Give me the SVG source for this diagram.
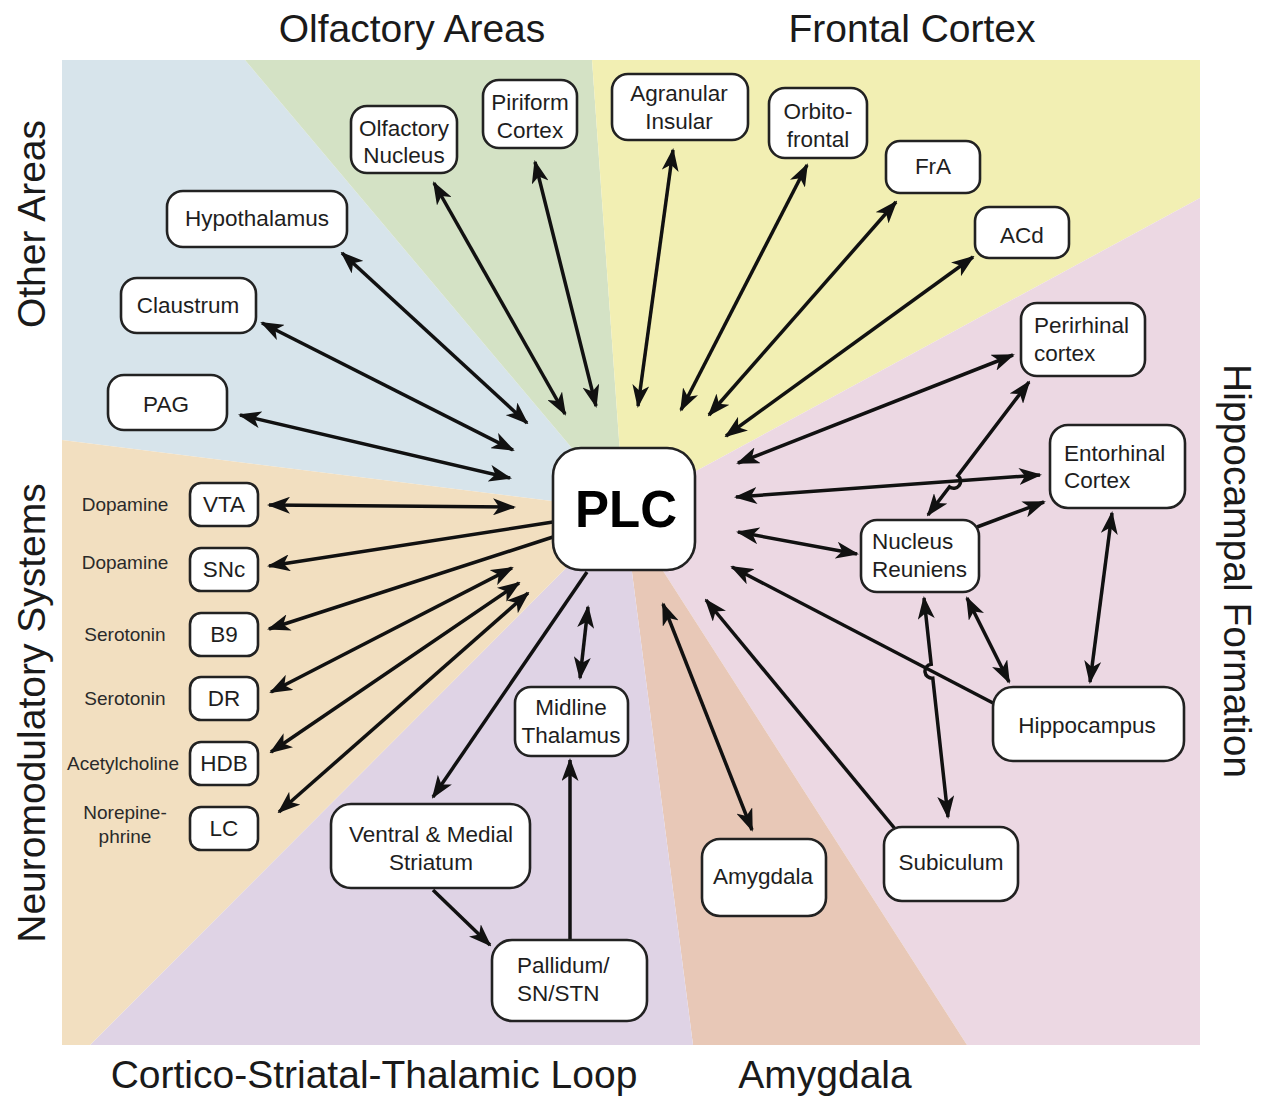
<svg xmlns="http://www.w3.org/2000/svg" width="1262" height="1098" viewBox="0 0 1262 1098">
<defs>
<style>
.bg{fill:#ffffff}
.box{fill:#ffffff;stroke:#222;stroke-width:2.6}
.t{font-family:"Liberation Sans",Arial,sans-serif;font-size:22.5px;fill:#1e1e1e;text-anchor:middle}
.tl{font-family:"Liberation Sans",Arial,sans-serif;font-size:22.5px;fill:#1e1e1e;text-anchor:start}
.s{font-family:"Liberation Sans",Arial,sans-serif;font-size:19px;fill:#2a2a2a;text-anchor:middle}
.ttl{font-family:"Liberation Sans",Arial,sans-serif;font-size:39px;fill:#1a1a1a;text-anchor:middle}
.plc{font-family:"Liberation Sans",Arial,sans-serif;font-size:51px;font-weight:bold;fill:#000;text-anchor:middle}
.c{fill:none;stroke:#111;stroke-width:3.5}
.d{marker-start:url(#ah);marker-end:url(#ah)}
.e{marker-end:url(#ah)}
</style>
<marker id="ah" viewBox="0 0 23 17" refX="21" refY="8.5" markerWidth="23" markerHeight="17" markerUnits="userSpaceOnUse" orient="auto-start-reverse">
<path d="M0,0 L23,8.5 L0,17 L6,8.5 z" fill="#111"/>
</marker>
</defs>
<rect class="bg" x="0" y="0" width="1262" height="1098"/>
<g id="sectors">
<polygon points="62,60 245,60 624,510 62,440" fill="#d7e4eb"/>
<polygon points="245,60 592,60 624,510" fill="#d4e2c5"/>
<polygon points="592,60 1200,60 1200,198 624,510" fill="#f2efb3"/>
<polygon points="1200,198 1200,1045 967,1045 624,510" fill="#ecd8e3"/>
<polygon points="967,1045 693,1045 624,510" fill="#e8c8b7"/>
<polygon points="693,1045 90,1045 624,510" fill="#dfd3e5"/>
<polygon points="90,1045 62,1045 62,440 624,510" fill="#f2dfc0"/>
</g>
<g id="titles">
<text class="ttl" x="412" y="42">Olfactory Areas</text>
<text class="ttl" x="912" y="42">Frontal Cortex</text>
<text class="ttl" x="374" y="1088">Cortico-Striatal-Thalamic Loop</text>
<text class="ttl" x="825" y="1088">Amygdala</text>
<text class="ttl" transform="translate(45,224) rotate(-90)">Other Areas</text>
<text class="ttl" transform="translate(45,713) rotate(-90)">Neuromodulatory Systems</text>
<text class="ttl" transform="translate(1224,571) rotate(90)">Hippocampal Formation</text>
</g>
<g id="connectors">
<line class="c d" x1="434" y1="183" x2="565" y2="414"/>
<line class="c d" x1="535" y1="162" x2="596" y2="406"/>
<line class="c d" x1="673" y1="150" x2="638" y2="406"/>
<line class="c d" x1="807" y1="165" x2="681" y2="410"/>
<line class="c d" x1="896" y1="202" x2="709" y2="415"/>
<line class="c d" x1="973" y1="257" x2="726" y2="436"/>
<line class="c d" x1="1013" y1="355" x2="738" y2="463"/>
<line class="c d" x1="1040" y1="475" x2="736" y2="497"/>
<line class="c d" x1="857" y1="554" x2="738" y2="532"/>
<line class="c e" x1="993" y1="703" x2="732" y2="567"/>
<line class="c e" x1="896" y1="830" x2="706" y2="600"/>
<line class="c d" x1="663" y1="604" x2="752" y2="830"/>
<line class="c d" x1="588" y1="607" x2="580" y2="678"/>
<line class="c e" x1="587" y1="572" x2="433" y2="797"/>
<line class="c e" x1="433" y1="890" x2="490" y2="945"/>
<line class="c e" x1="570" y1="940" x2="570" y2="760"/>
<line class="c d" x1="269" y1="505" x2="514" y2="507"/>
<line class="c e" x1="553" y1="522" x2="269" y2="566"/>
<line class="c e" x1="553" y1="537" x2="269" y2="629"/>
<line class="c d" x1="271" y1="692" x2="512" y2="568"/>
<line class="c d" x1="271" y1="752" x2="519" y2="583"/>
<line class="c d" x1="279" y1="812" x2="528" y2="593"/>
<line class="c d" x1="240" y1="415" x2="510" y2="478"/>
<line class="c d" x1="262" y1="323" x2="513" y2="450"/>
<line class="c d" x1="342" y1="253" x2="527" y2="423"/>
<line class="c d" x1="967" y1="598" x2="1009" y2="682"/>
<line class="c d" x1="1112" y1="513" x2="1090" y2="682"/>
<line class="c e" x1="977" y1="527" x2="1044" y2="502"/>
<path class="c d" d="M1029,382 L957.8,475.7 A7,7 0 0 1 949.4,486.9 L928,515"/>
<path class="c d" d="M924,598 L931.2,664.2 A7,7 0 0 0 932.8,678.2 L948,817"/>
</g>
<g id="PLC"><rect class="box" x="553" y="448" width="142" height="122" rx="28"/><text class="plc" x="626" y="527">PLC</text></g>
<g id="olfactory-nucleus"><rect class="box" x="351" y="106" width="106" height="67" rx="16"/><text class="t" x="404" y="136">Olfactory</text><text class="t" x="404" y="163">Nucleus</text></g>
<g id="piriform-cortex"><rect class="box" x="483" y="80" width="94" height="68" rx="16"/><text class="t" x="530" y="110">Piriform</text><text class="t" x="530" y="138">Cortex</text></g>
<g id="agranular-insular"><rect class="box" x="612" y="74" width="136" height="66" rx="16"/><text class="t" x="679" y="101">Agranular</text><text class="t" x="679" y="129">Insular</text></g>
<g id="orbitofrontal"><rect class="box" x="769" y="88" width="98" height="70" rx="16"/><text class="t" x="818" y="119">Orbito-</text><text class="t" x="818" y="147">frontal</text></g>
<g id="FrA"><rect class="box" x="886" y="141" width="94" height="52" rx="14"/><text class="t" x="933" y="174">FrA</text></g>
<g id="ACd"><rect class="box" x="975" y="207" width="94" height="51" rx="14"/><text class="t" x="1022" y="243">ACd</text></g>
<g id="hypothalamus"><rect class="box" x="167" y="191" width="180" height="56" rx="16"/><text class="t" x="257" y="226">Hypothalamus</text></g>
<g id="claustrum"><rect class="box" x="121" y="278" width="135" height="55" rx="16"/><text class="t" x="188" y="313">Claustrum</text></g>
<g id="PAG"><rect class="box" x="108" y="375" width="119" height="55" rx="16"/><text class="t" x="166" y="412">PAG</text></g>
<g id="perirhinal-cortex"><rect class="box" x="1021" y="303" width="124" height="73" rx="16"/><text class="tl" x="1034" y="333">Perirhinal</text><text class="tl" x="1034" y="361">cortex</text></g>
<g id="entorhinal-cortex"><rect class="box" x="1050" y="425" width="135" height="83" rx="18"/><text class="tl" x="1064" y="461">Entorhinal</text><text class="tl" x="1064" y="488">Cortex</text></g>
<g id="nucleus-reuniens"><rect class="box" x="861" y="520" width="118" height="72" rx="16"/><text class="tl" x="872" y="549">Nucleus</text><text class="tl" x="872" y="577">Reuniens</text></g>
<g id="hippocampus"><rect class="box" x="993" y="687" width="191" height="74" rx="20"/><text class="t" x="1087" y="733">Hippocampus</text></g>
<g id="subiculum"><rect class="box" x="884" y="827" width="134" height="74" rx="18"/><text class="t" x="951" y="870">Subiculum</text></g>
<g id="amygdala"><rect class="box" x="702" y="839" width="124" height="77" rx="18"/><text class="t" x="763" y="884">Amygdala</text></g>
<g id="midline-thalamus"><rect class="box" x="515" y="687" width="113" height="69" rx="16"/><text class="t" x="571" y="715">Midline</text><text class="t" x="571" y="743">Thalamus</text></g>
<g id="ventral-medial-striatum"><rect class="box" x="331" y="804" width="199" height="84" rx="20"/><text class="t" x="431" y="842">Ventral &amp; Medial</text><text class="t" x="431" y="870">Striatum</text></g>
<g id="pallidum"><rect class="box" x="492" y="940" width="155" height="81" rx="20"/><text class="tl" x="517" y="973">Pallidum/</text><text class="tl" x="517" y="1001">SN/STN</text></g>
<g id="VTA"><rect class="box" x="190" y="483" width="68" height="43" rx="11"/><text class="t" x="224" y="512">VTA</text><text class="s" x="125" y="511">Dopamine</text></g>
<g id="SNc"><rect class="box" x="190" y="548" width="68" height="43" rx="11"/><text class="t" x="224" y="577">SNc</text><text class="s" x="125" y="569">Dopamine</text></g>
<g id="B9"><rect class="box" x="190" y="613" width="68" height="43" rx="11"/><text class="t" x="224" y="642">B9</text><text class="s" x="125" y="641">Serotonin</text></g>
<g id="DR"><rect class="box" x="190" y="677" width="68" height="43" rx="11"/><text class="t" x="224" y="706">DR</text><text class="s" x="125" y="705">Serotonin</text></g>
<g id="HDB"><rect class="box" x="190" y="742" width="68" height="43" rx="11"/><text class="t" x="224" y="771">HDB</text><text class="s" x="123" y="770">Acetylcholine</text></g>
<g id="LC"><rect class="box" x="190" y="807" width="68" height="43" rx="11"/><text class="t" x="224" y="836">LC</text><text class="s" x="125" y="819">Norepine-</text><text class="s" x="125" y="843">phrine</text></g>
</svg>
